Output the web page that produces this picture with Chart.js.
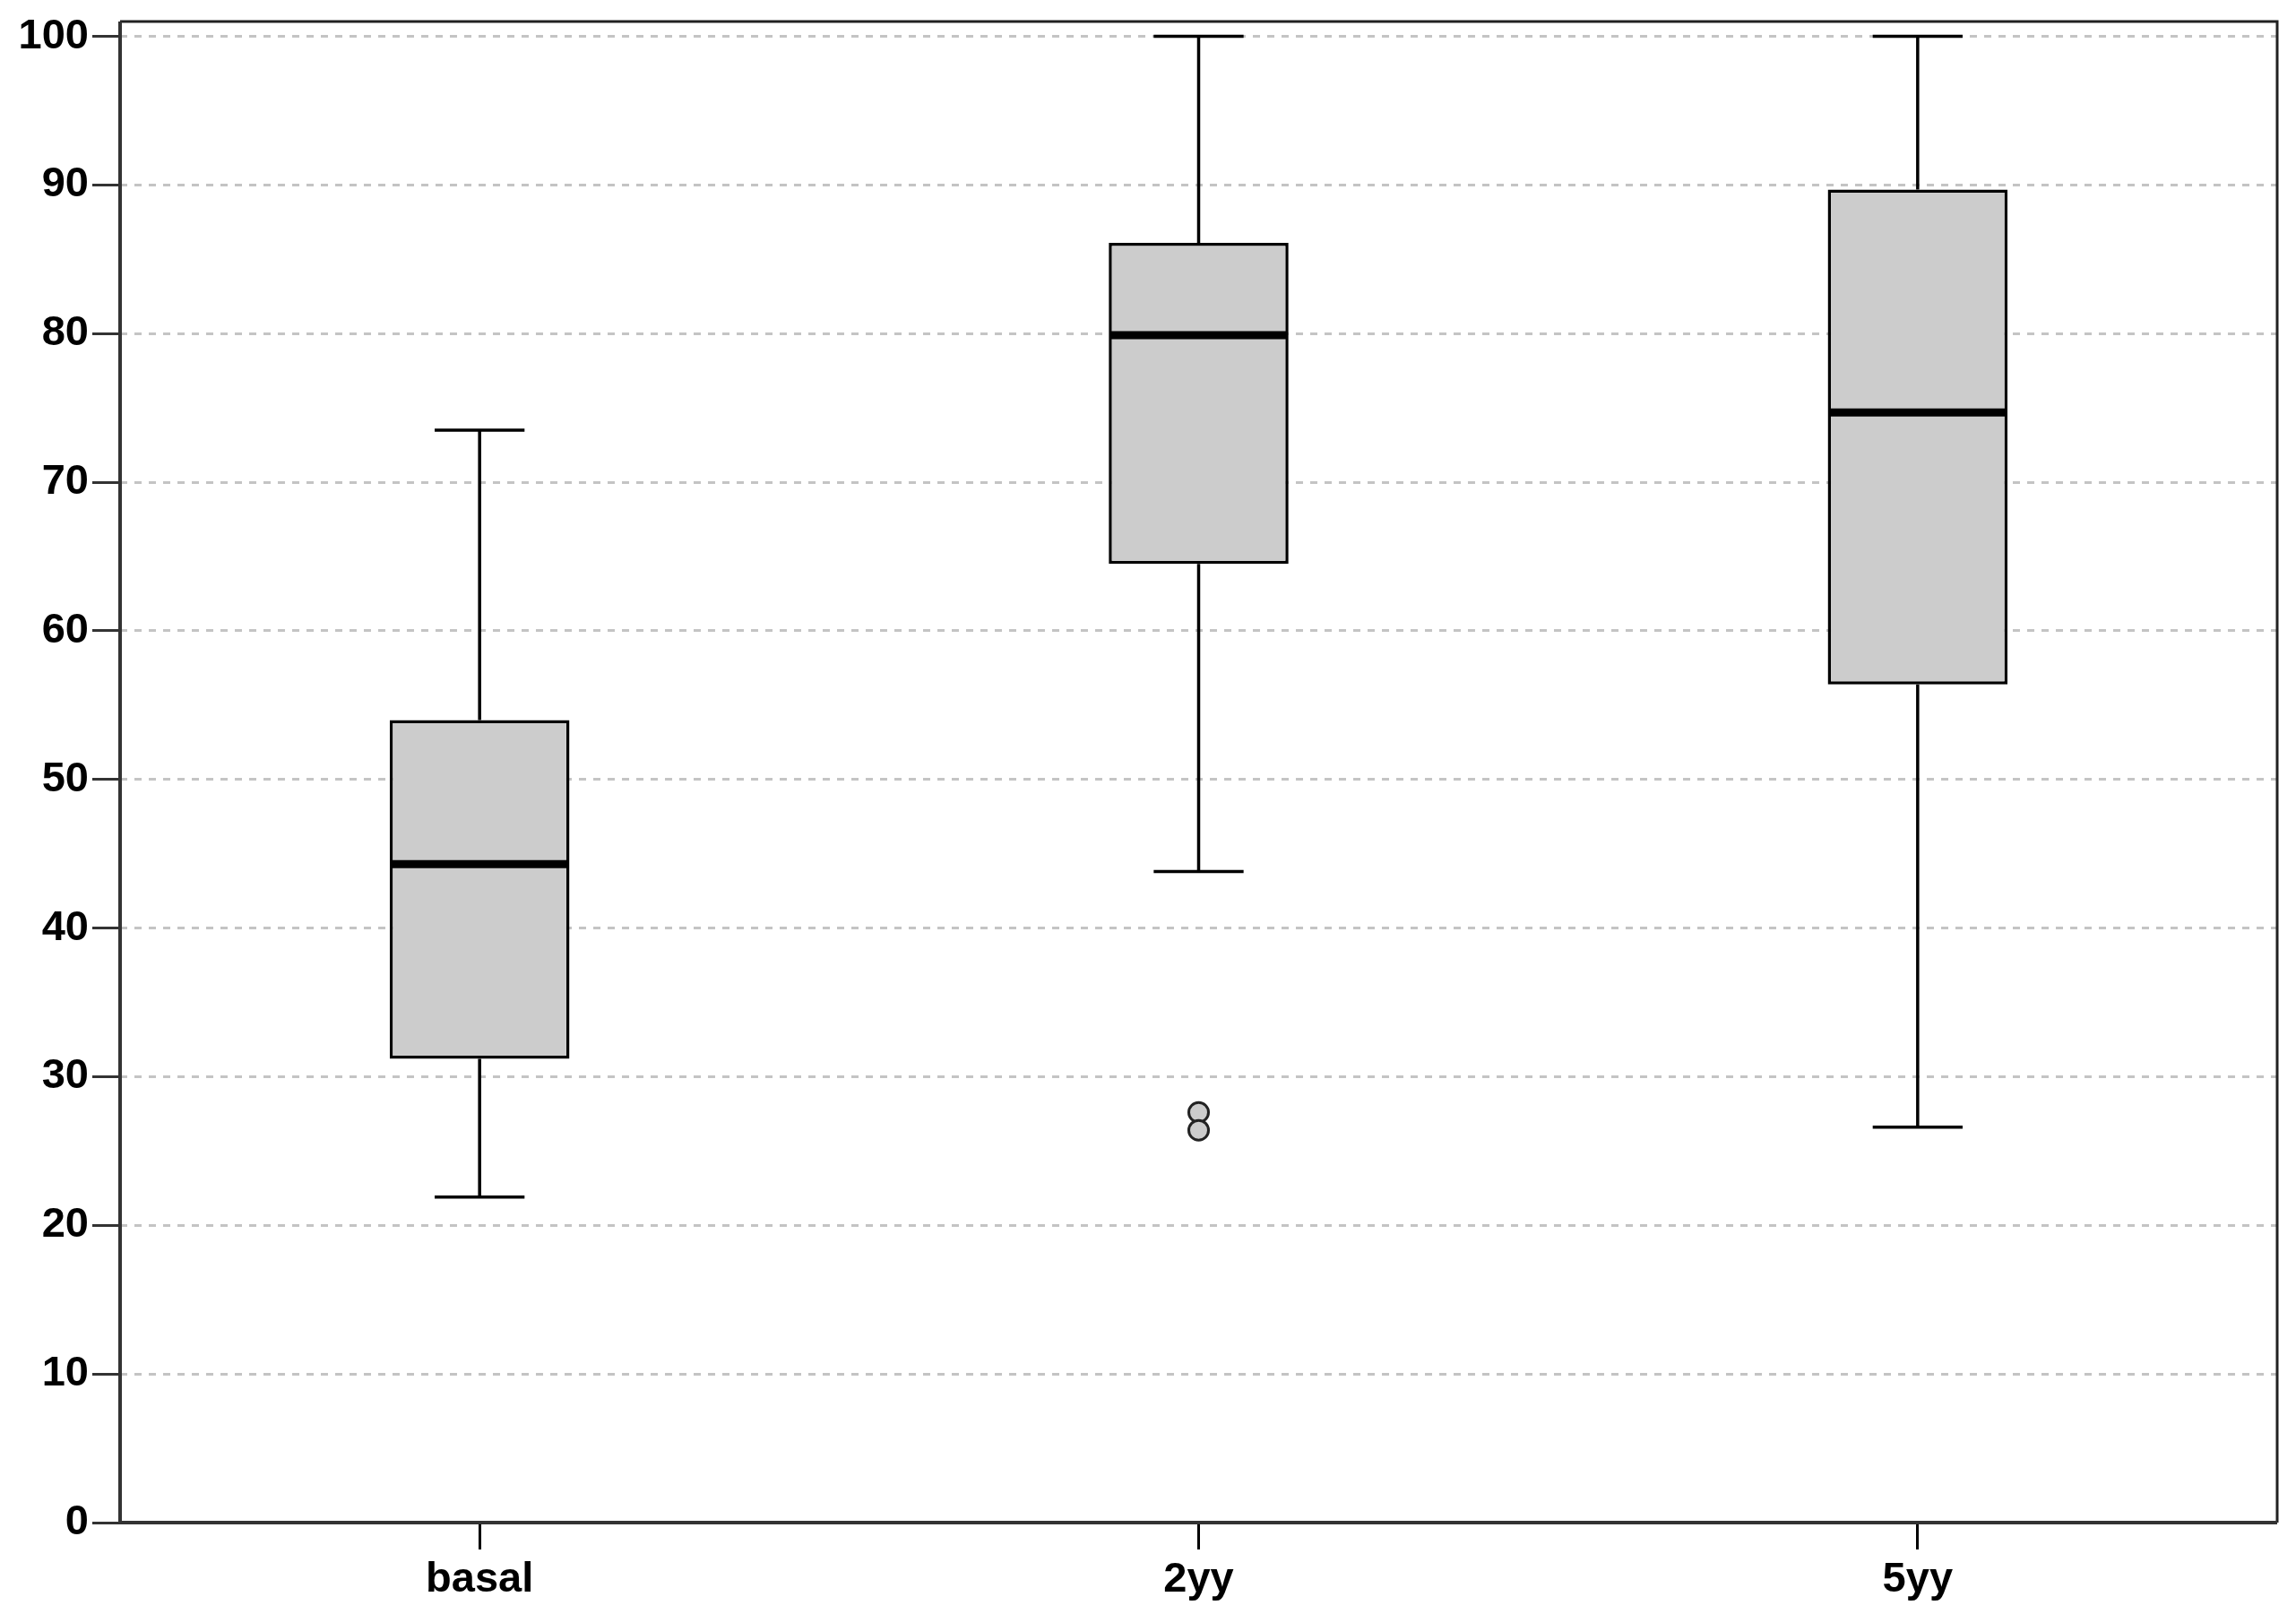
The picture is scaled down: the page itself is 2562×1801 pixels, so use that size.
<!DOCTYPE html>
<html>
<head>
<meta charset="utf-8">
<script src="https://cdn.jsdelivr.net/npm/chart.js@4"></script>
<style>
  html, body { margin: 0; padding: 0; background: #fff; }
  #wrap { width: 2562px; height: 1801px; }
</style>
</head>
<body>
<div id="wrap"><canvas id="boxChart" width="2562" height="1801"></canvas></div>
<script>
// Box plot values
const categories = ['basal', '2yy', '5yy'];
const whiskerLow = [21.9, 43.8, 26.6];
const q1 = [31.2, 64.5, 56.4];
const medians = [44.3, 79.9, 74.7];
const q3 = [54.0, 86.1, 89.7];
const whiskerHigh = [73.5, 100, 100];
const outlierCats = ['2yy', '2yy'];
const outlierVals = [27.6, 26.4];

const FONT = { family: "'Liberation Sans', Arial, sans-serif", size: 47, weight: 'bold' };

// whiskers + caps behind the boxes, medians on top, frame last
const boxParts = {
    id: 'boxParts',
    beforeDatasetsDraw(chart) {
        const { ctx, scales: { x, y } } = chart;
        const meta = chart.getDatasetMeta(0);
        ctx.save();
        ctx.strokeStyle = '#000';
        ctx.lineWidth = 3.5;
        categories.forEach((c, i) => {
            const cx = x.getPixelForValue(i);
            const half = meta.data[i].width / 4;
            ctx.beginPath();
            ctx.moveTo(cx, y.getPixelForValue(whiskerLow[i]));
            ctx.lineTo(cx, y.getPixelForValue(q1[i]));
            ctx.moveTo(cx, y.getPixelForValue(q3[i]));
            ctx.lineTo(cx, y.getPixelForValue(whiskerHigh[i]));
            ctx.moveTo(cx - half, y.getPixelForValue(whiskerLow[i]));
            ctx.lineTo(cx + half, y.getPixelForValue(whiskerLow[i]));
            ctx.moveTo(cx - half, y.getPixelForValue(whiskerHigh[i]));
            ctx.lineTo(cx + half, y.getPixelForValue(whiskerHigh[i]));
            ctx.stroke();
        });
        ctx.restore();
    },
    afterDatasetsDraw(chart) {
        const { ctx, scales: { x, y } } = chart;
        const meta = chart.getDatasetMeta(0);
        ctx.save();
        ctx.strokeStyle = '#000';
        ctx.lineWidth = 9;
        categories.forEach((c, i) => {
            const cx = x.getPixelForValue(i);
            const half = meta.data[i].width / 2 - 1;
            const my = y.getPixelForValue(medians[i]);
            ctx.beginPath();
            ctx.moveTo(cx - half, my);
            ctx.lineTo(cx + half, my);
            ctx.stroke();
        });
        ctx.restore();
    },
    afterDraw(chart) {
        const { ctx, chartArea: a } = chart;
        ctx.save();
        ctx.strokeStyle = '#222';
        ctx.lineWidth = 3;
        ctx.beginPath();
        ctx.moveTo(a.left, a.top);
        ctx.lineTo(a.right, a.top);
        ctx.lineTo(a.right, a.bottom);
        ctx.stroke();
        ctx.strokeStyle = '#333';
        ctx.lineWidth = 4;
        ctx.beginPath();
        ctx.moveTo(a.left, a.top);
        ctx.lineTo(a.left, a.bottom);
        ctx.lineTo(a.right, a.bottom);
        ctx.stroke();
        ctx.restore();
    }
};

new Chart(document.getElementById('boxChart'), {
    type: 'bar',
    data: {
        labels: categories,
        datasets: [{
            label: 'IQR',
            data: categories.map((c, i) => [q1[i], q3[i]]),
            backgroundColor: '#cccccc',
            borderColor: '#000',
            borderWidth: 3.5,
            borderSkipped: false,
            barPercentage: 0.25,
            categoryPercentage: 1
        }, {
            type: 'line',
            label: 'outliers',
            data: outlierCats.map((c, i) => ({ x: c, y: outlierVals[i] })),
            showLine: false,
            pointRadius: 11,
            pointBorderWidth: 3,
            pointBackgroundColor: '#cccccc',
            pointBorderColor: '#222'
        }]
    },
    options: {
        responsive: false,
        devicePixelRatio: 1,
        animation: false,
        layout: { padding: { top: 24, right: 21, left: 0, bottom: 0 } },
        plugins: { legend: { display: false }, tooltip: { enabled: false } },
        scales: {
            x: {
                offset: true,
                afterFit: (s) => { s.height = 102; },
                grid: { offset: false, drawOnChartArea: false, tickLength: 30, tickWidth: 3, tickColor: '#000' },
                border: { display: false },
                ticks: { color: '#000', font: FONT, padding: 6 }
            },
            y: {
                min: 0,
                max: 101,
                afterFit: (s) => { s.width = 134; s.paddingTop = 0; s.paddingBottom = 0; },
                grid: {
                    color: (c) => c.tick && c.tick.value === 0 ? 'rgba(0,0,0,0)' : '#c4c4c4',
                    lineWidth: 3,
                    tickLength: 31,
                    tickWidth: 3,
                    tickColor: '#333'
                },
                border: { display: false, dash: [8, 8] },
                ticks: { stepSize: 10, includeBounds: false, color: '#000', font: FONT, padding: 4 }
            }
        }
    },
    plugins: [boxParts]
});
</script>
</body>
</html>
